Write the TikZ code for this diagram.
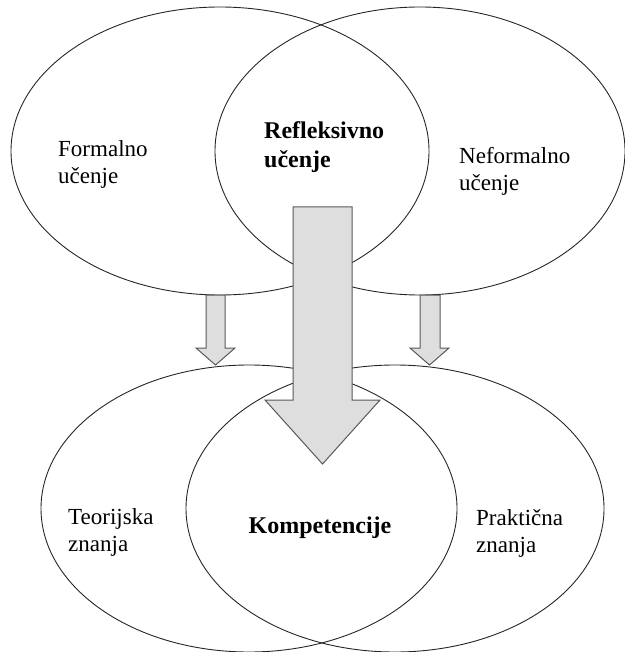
\documentclass[tikz,border=0pt]{standalone}
\usepackage{fontspec}
\setmainfont{Liberation Serif}
\begin{document}
\begin{tikzpicture}[x=1pt,y=-1pt,
  ring/.style={draw=black!85,line width=0.9pt},
  bigarrow/.style={draw=black!65,fill=black!13,line width=1pt,line join=miter},
  lbl/.style={inner sep=0pt,align=left,font=\fontsize{23}{27}\selectfont},
  blbl/.style={inner sep=0pt,align=left,font=\fontsize{24}{29}\selectfont\bfseries}]
\useasboundingbox (0,0) rectangle (624,652);
% top ellipses
\draw[ring] (220,151) ellipse [x radius=209,y radius=144];
\draw[ring] (420,151) ellipse [x radius=205,y radius=144];
% bottom ellipses
\draw[ring] (249,508.5) ellipse [x radius=208,y radius=143.5];
\draw[ring] (395,508.5) ellipse [x radius=209,y radius=143.5];
% arrows
\draw[bigarrow] (293,207) -- (352,207) -- (352,400) -- (380,400) -- (322.5,464) -- (265,400) -- (293,400) -- cycle;
\draw[bigarrow] (206,295) -- (225,295) -- (225,348) -- (235,348) -- (215.5,365) -- (196,348) -- (206,348) -- cycle;
\draw[bigarrow] (420,295) -- (440,295) -- (440,348) -- (449,348) -- (429.5,365) -- (410,348) -- (420,348) -- cycle;
% labels
\node[lbl,anchor=west] (formal) at (58,164) {Formalno\\učenje};
\node[blbl,anchor=west] (refl) at (264,147) {Refleksivno\\učenje};
\node[lbl,anchor=west] (neformal) at (459,171) {Neformalno\\učenje};
\node[lbl,anchor=west] (teor) at (68,532) {Teorijska\\znanja};
\node[blbl] (komp) at (320,528) {Kompetencije};
\node[lbl,anchor=west] (prakt) at (476,533) {Praktična\\znanja};
\end{tikzpicture}
\end{document}
